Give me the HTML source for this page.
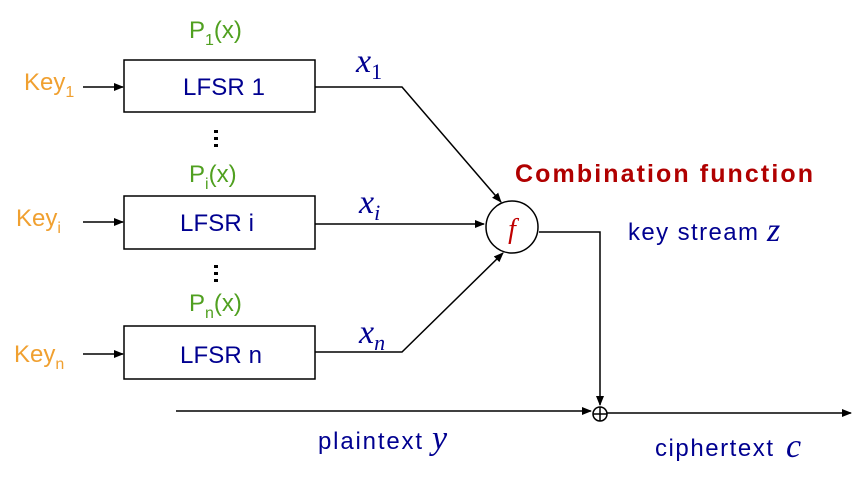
<!DOCTYPE html>
<html><head><meta charset="utf-8"><style>
body{margin:0;background:#fff;}
svg{display:block;font-family:"Liberation Sans",sans-serif;}
.k{fill:#f0a030;font-size:24px}
.p{fill:#50a020;font-size:24px}
.l{fill:#000090;font-size:24px}
.m{fill:#000090;font-family:"Liberation Serif",serif;font-style:italic;font-size:34px}
</style></head><body>
<svg width="864" height="481" viewBox="0 0 864 481">
<defs><marker id="a" markerWidth="10" markerHeight="8" refX="9" refY="4" orient="auto" markerUnits="userSpaceOnUse"><path d="M0,0L10,4L0,8z" fill="#000"/></marker></defs>
<g stroke="#000" stroke-width="1.5" fill="none">
<rect x="124" y="60" width="191" height="52"/>
<rect x="124" y="196" width="191" height="53"/>
<rect x="124" y="326" width="191" height="53"/>
<line x1="83" y1="87" x2="123" y2="87" marker-end="url(#a)"/>
<line x1="83" y1="222" x2="123" y2="222" marker-end="url(#a)"/>
<line x1="83" y1="354" x2="123" y2="354" marker-end="url(#a)"/>
<polyline points="315,87 402,87 501,202" marker-end="url(#a)"/>
<line x1="315" y1="224" x2="484" y2="224" marker-end="url(#a)"/>
<polyline points="315,352 402,352 503,253" marker-end="url(#a)"/>
<circle cx="512" cy="227" r="26"/>
<polyline points="539,232 600,232 600,405" marker-end="url(#a)"/>
<line x1="176" y1="411" x2="591" y2="411" marker-end="url(#a)"/>
<circle cx="600" cy="414" r="7"/>
<line x1="593" y1="414" x2="607" y2="414"/><line x1="600" y1="407" x2="600" y2="421"/>
<line x1="607" y1="413" x2="851" y2="413" marker-end="url(#a)"/>
</g>
<g fill="#000"><rect x="214" y="130" width="4" height="3"/><rect x="214" y="137" width="4" height="3"/><rect x="214" y="144" width="4" height="3"/>
<rect x="214" y="265" width="4" height="3"/><rect x="214" y="272" width="4" height="3"/><rect x="214" y="279" width="4" height="3"/></g>
<text class="k" x="24" y="90">Key<tspan font-size="16" dy="7">1</tspan></text>
<text class="k" x="16" y="226">Key<tspan font-size="16" dy="7">i</tspan></text>
<text class="k" x="14" y="362">Key<tspan font-size="16" dy="7">n</tspan></text>
<text class="p" x="189" y="38">P<tspan font-size="16" dy="7">1</tspan><tspan dy="-7">(x)</tspan></text>
<text class="p" x="189" y="182">P<tspan font-size="16" dy="7">i</tspan><tspan dy="-7">(x)</tspan></text>
<text class="p" x="189" y="311">P<tspan font-size="16" dy="7">n</tspan><tspan dy="-7">(x)</tspan></text>
<text class="l" x="183" y="95" textLength="82">LFSR 1</text>
<text class="l" x="180" y="231" textLength="74">LFSR i</text>
<text class="l" x="180" y="363" textLength="82">LFSR n</text>
<text class="m" x="356" y="72">x<tspan font-size="22" dy="7" font-style="normal">1</tspan></text>
<text class="m" x="359" y="213">x<tspan font-size="22" dy="7">i</tspan></text>
<text class="m" x="359" y="343">x<tspan font-size="22" dy="7">n</tspan></text>
<text x="512" y="238" text-anchor="middle" fill="#c00000" font-family="Liberation Serif,serif" font-style="italic" font-size="28">f</text>
<text x="515" y="182" fill="#b00000" font-weight="bold" font-size="25" textLength="298">Combination function</text>
<text class="l" x="628" y="240" textLength="130">key stream</text>
<text class="m" x="767" y="241" font-size="32">z</text>
<text class="l" x="318" y="449" textLength="104">plaintext</text>
<text class="m" x="432" y="449">y</text>
<text class="l" x="655" y="456" textLength="118">ciphertext</text>
<text class="m" x="786" y="457">c</text>
</svg>
</body></html>
